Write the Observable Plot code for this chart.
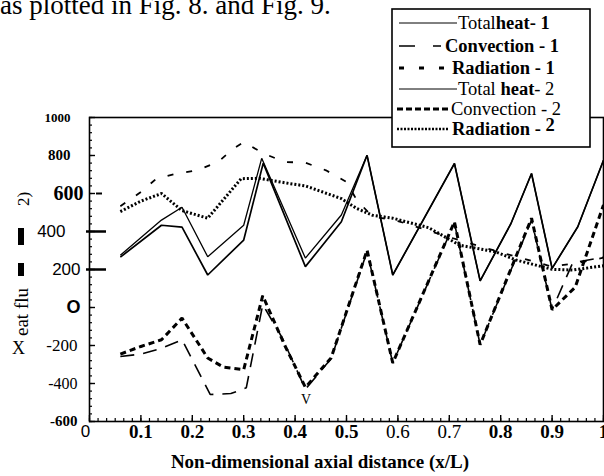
<!DOCTYPE html>
<html><head><meta charset="utf-8">
<script src="https://cdn.jsdelivr.net/npm/d3@7"></script>
<script src="https://cdn.jsdelivr.net/npm/@observablehq/plot@0.6"></script>
<style>
body{margin:0;background:#fff;}
#wrap{position:relative;width:604px;height:476px;overflow:hidden;}
#wrap svg{position:absolute;left:0;top:0;}
</style></head><body><div id="wrap"></div>
<script>
// ---- data ----
const xTotal1 = [0.06,0.14,0.18,0.23,0.30,0.338,0.42,0.49,0.54,0.59,0.71,0.76,0.82,0.86,0.90,0.95,1.0];
const yTotal1 = [265,433,423,171,355,760,215,451,801,171,758,140,442,705,206,425,775];
const xTotal2 = [0.06,0.14,0.18,0.23,0.30,0.335,0.42,0.49,0.54,0.59,0.71,0.76,0.82,0.86,0.90,0.95,1.0];
const yTotal2 = [275,460,528,267,433,785,260,487,801,171,758,140,442,705,206,425,775];
const xConv1 = [0.06,0.10,0.14,0.18,0.235,0.275,0.305,0.337,0.375,0.42,0.47,0.54,0.59,0.71,0.76,0.86,0.90,0.94,1.0];
const yConv1 = [-258,-245,-215,-170,-458,-453,-423,15,-160,-430,-270,295,-292,445,-196,460,-12,235,265];
const xConv2 = [0.06,0.10,0.14,0.18,0.23,0.26,0.30,0.337,0.38,0.42,0.47,0.54,0.59,0.71,0.76,0.86,0.90,0.945,1.0];
const yConv2 = [-245,-205,-170,-56,-266,-313,-327,62,-200,-420,-266,302,-292,451,-196,470,-12,107,540];
const xRad1 = [0.06,0.10,0.13,0.17,0.21,0.25,0.28,0.30,0.34,0.38,0.42,0.46,0.50,0.52,0.55,0.60,0.70,0.80,0.86,0.90,0.95,1.0];
const yRad1 = [533,608,678,705,722,766,836,870,809,766,762,722,661,565,480,455,370,290,245,215,235,262];
const xRad2 = [0.06,0.10,0.14,0.18,0.23,0.295,0.33,0.39,0.42,0.49,0.52,0.55,0.59,0.66,0.72,0.79,0.83,0.90,0.94,1.0];
const yRad2 = [505,560,600,510,470,678,680,652,640,573,521,486,470,420,328,293,250,201,197,220];

const seriesNames = ["Total heat - 1","Convection - 1","Radiation - 1","Total heat - 2","Convection - 2","Radiation - 2"];
const xTicks = [0,0.1,0.2,0.3,0.4,0.5,0.6,0.7,0.8,0.9,1];
const xTickLabels = ["0","0.1","0.2","0.3","0.4","0.5","0.6","0.7","0.8","0.9","1"];
const yTicks = [1000,800,600,400,200,0,-200,-400,-600];
const yTickLabels = ["1000","800","600","400","200","O","-200","-400","-600"];
const xLabel = "Non-dimensional axial distance (x/L)";
const topText = "as plotted in Fig. 8. and Fig. 9.";

// ---- build table ----
const seriesXY = [[xTotal1,yTotal1],[xConv1,yConv1],[xRad1,yRad1],[xTotal2,yTotal2],[xConv2,yConv2],[xRad2,yRad2]];
const rows = seriesNames.flatMap((name,k)=>seriesXY[k][0].map((x,i)=>({series:name,x,y:seriesXY[k][1][i]})));

// ---- styles ----
const lineStyle = {
  "Total heat - 1": {strokeWidth:1.7, strokeDasharray:null},
  "Convection - 1": {strokeWidth:1.6, strokeDasharray:"14,9"},
  "Radiation - 1": {strokeWidth:1.8, strokeDasharray:"6,13"},
  "Total heat - 2": {strokeWidth:1.3, strokeDasharray:null},
  "Convection - 2": {strokeWidth:3, strokeDasharray:"6,4"},
  "Radiation - 2": {strokeWidth:3, strokeDasharray:"2,2"}
};
const serif = "'Liberation Serif','Times New Roman',serif";
const sans = "'Liberation Sans',Arial,sans-serif";
const yLabelStyle = {
  "1000":{f:serif,s:13,w:"bold",dx:-8},
  "800":{f:serif,s:15,w:"bold",dx:-8},
  "600":{f:serif,s:20,w:"bold",dx:5},
  "400":{f:sans,s:17,w:"normal",dx:-13},
  "200":{f:sans,s:17,w:"normal",dx:2},
  "O":{f:sans,s:18,w:"bold",dx:2},
  "-200":{f:serif,s:17,w:"normal",dx:-1},
  "-400":{f:serif,s:16,w:"normal",dx:-1},
  "-600":{f:serif,s:15,w:"bold",dx:-1}
};
const xLabelStyle = {
  "0":{f:sans,s:17,w:"normal",dx:-4},
  "0.6":{f:serif,s:19,w:"normal",dx:0},
  "0.7":{f:serif,s:19,w:"normal",dx:0}
};
const xLabelDefault = {f:serif,s:19,w:"bold",dx:0};

const yMinor = d3.range(-600,1001,40);
const xMinor = d3.range(0,1.0001,1/60);
const yFmt = new Map(yTicks.map((v,i)=>[v,yTickLabels[i]]));
const xFmt = new Map(xTicks.map((v,i)=>[v,xTickLabels[i]]));

const chart = Plot.plot({
  width:604, height:476,
  marginTop:117, marginBottom:55, marginLeft:89, marginRight:1,
  x:{domain:[0,1], label:null},
  y:{domain:[-600,1000], label:null},
  style:{background:"transparent", color:"#000"},
  marks:[
    Plot.frame({stroke:"#000", strokeWidth:1.6}),
    Plot.axisY(yMinor,{tickSize:3, dx:3, text:null, strokeWidth:1.2, label:null}),
    Plot.axisY(yTicks,{tickSize:6, dx:6, text:null, strokeWidth:1.4, label:null}),
    Plot.axisY([400,200],{tickSize:20, dx:17, text:null, strokeWidth:2.5, label:null}),
    Plot.axisY([600],{tickSize:6, dx:13, text:null, strokeWidth:2, label:null}),
    Plot.axisY(yTicks,{tickSize:0, tickPadding:11, tickFormat:d=>yFmt.get(d), fontSize:16, label:null}),
    Plot.axisX(xMinor,{tickSize:3, dy:-3, text:null, strokeWidth:1.2, label:null}),
    Plot.axisX(xTicks,{tickSize:6, dy:-6, text:null, strokeWidth:1.4, label:null}),
    Plot.axisX(xTicks,{tickSize:0, tickPadding:3, tickFormat:d=>xFmt.get(d), fontSize:19, label:null}),
    ...seriesNames.map(name=>Plot.line(rows.filter(r=>r.series===name),{
      x:"x", y:"y", stroke:"#000",
      strokeWidth:lineStyle[name].strokeWidth,
      strokeDasharray:lineStyle[name].strokeDasharray,
      strokeLinejoin:"miter", strokeLinecap:"butt"
    }))
  ]
});

const wrap = document.getElementById("wrap");
wrap.appendChild(chart);

// per-label fonts
d3.select(chart).selectAll('g[aria-label="y-axis tick label"] text').each(function(){
  const t = this.textContent; const st = yLabelStyle[t]; if(!st) return;
  d3.select(this).attr("font-family",st.f).attr("font-size",st.s).attr("font-weight",st.w)
    .attr("transform",(this.getAttribute("transform")||"")+` translate(${st.dx},0)`);
});
d3.select(chart).selectAll('g[aria-label="x-axis tick label"] text').each(function(){
  const t = this.textContent; const st = xLabelStyle[t]||xLabelDefault;
  d3.select(this).attr("font-family",st.f).attr("font-size",st.s).attr("font-weight",st.w)
    .attr("transform",(this.getAttribute("transform")||"")+` translate(${st.dx},0)`);
});

// ---- overlay: page text, garbled y label, legend ----
const ov = d3.select(wrap).append("svg").attr("width",604).attr("height",476)
  .style("pointer-events","none").attr("font-family",serif);

ov.append("text").attr("x",0).attr("y",14).attr("font-size",27).text(topText);
ov.append("text").attr("x",320).attr("y",468).attr("text-anchor","middle")
  .attr("font-size",19).attr("font-weight","bold").text(xLabel);

// y-axis title as it appears in the scan
ov.append("text").attr("transform","translate(29,206) rotate(-90)").attr("font-size",17).text("2)");
ov.append("rect").attr("x",18).attr("y",228).attr("width",6).attr("height",17).attr("fill","#000");
ov.append("rect").attr("x",18).attr("y",263).attr("width",6).attr("height",13).attr("fill","#000");
ov.append("text").attr("transform","translate(28,336) rotate(-90)").attr("font-size",19).text("eat flu");
ov.append("text").attr("x",12).attr("y",354).attr("font-size",18).text("X");
ov.append("text").attr("x",306).attr("y",404).attr("text-anchor","middle").attr("font-size",14).text("V");

// legend
const lg = ov.append("g");
lg.append("rect").attr("x",392).attr("y",9).attr("width",198).attr("height",138)
  .attr("fill","#fff").attr("stroke","#000").attr("stroke-width",1.6);
const legendRows = [
  {y:23, x1:399, x2:457, sw:1, da:null, tx:458, by:29, parts:[["Total","normal"],["heat- 1","bold"]]},
  {y:46, x1:399, x2:441, sw:1.6, da:"16,18,8,100", tx:445, by:52, parts:[["Convection - 1","bold"]]},
  {y:68, x1:399, x2:446, sw:3, da:"5,15", tx:452, by:74, parts:[["Radiation - 1","bold"]]},
  {y:89, x1:399, x2:457, sw:1, da:null, tx:458, by:95, parts:[["Total ","normal"],["heat","bold"],["- 2","normal"]]},
  {y:109, x1:397, x2:448, sw:3, da:"6,3", tx:451, by:115, parts:[["Convection - 2","normal"]]},
  {y:129, x1:397, x2:449, sw:2.6, da:"2,1.5", tx:452, by:135, parts:[["Radiation - ","bold"],["2","bold",-4]]}
];
legendRows.forEach((r,i)=>{
  lg.append("line").attr("x1",r.x1).attr("x2",r.x2).attr("y1",r.y).attr("y2",r.y)
    .attr("stroke","#000").attr("stroke-width",r.sw).attr("stroke-dasharray",r.da);
  const t = lg.append("text").attr("x",r.tx).attr("y",r.by).attr("font-size",18.5);
  r.parts.forEach(p=>{
    const sp = t.append("tspan").attr("font-weight",p[1]).text(p[0]);
    if(p[2]) sp.attr("dy",p[2]);
  });
});
</script>
</body></html>
